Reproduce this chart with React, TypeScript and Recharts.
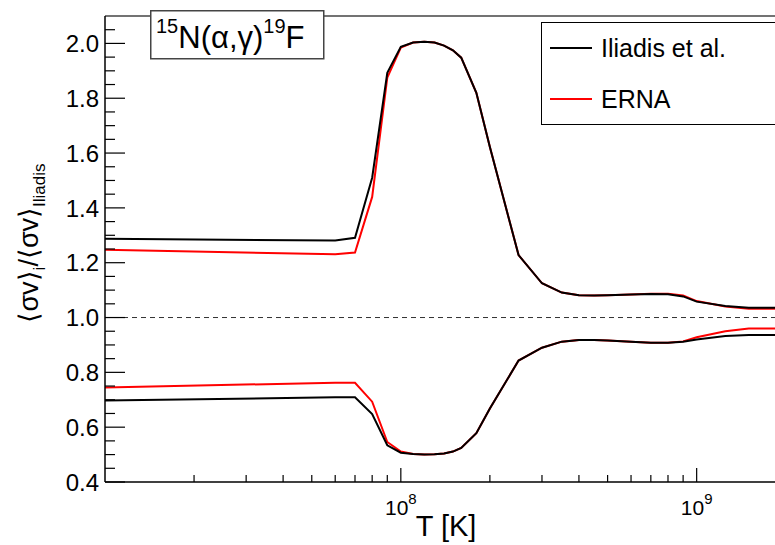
import { Line, LineChart, ReferenceLine, XAxis, YAxis } from "recharts";

// temperatures (K)
const temps = [
  1e7, 6e7, 7e7, 8e7, 9e7, 1e8, 1.1e8, 1.2e8, 1.3e8, 1.4e8, 1.5e8, 1.6e8, 1.8e8, 2e8, 2.5e8,
  3e8, 3.5e8, 4e8, 4.5e8, 5e8, 6e8, 7e8, 8e8, 9e8, 1e9, 1.25e9, 1.5e9, 1.75e9, 2e9,
];

// rate ratio bands (upper / lower)
const iliadisHigh = [
  1.287, 1.281, 1.291, 1.51, 1.893, 1.988, 2.003, 2.006, 2.003, 1.992, 1.975, 1.948, 1.82, 1.622, 1.228,
  1.125, 1.091, 1.081, 1.08, 1.081, 1.084, 1.086, 1.085, 1.077, 1.058, 1.042, 1.036, 1.036, 1.036,
];
const ernaHigh = [
  1.247, 1.231, 1.237, 1.44, 1.875, 1.985, 2.003, 2.006, 2.003, 1.992, 1.975, 1.948, 1.82, 1.622, 1.228,
  1.125, 1.091, 1.081, 1.08, 1.081, 1.084, 1.087, 1.087, 1.08, 1.06, 1.04, 1.032, 1.032, 1.032,
];
const iliadisLow = [
  0.697, 0.709, 0.709, 0.648, 0.534, 0.507, 0.502, 0.5, 0.501, 0.504, 0.511, 0.524, 0.578, 0.668, 0.843,
  0.89, 0.912, 0.918, 0.918, 0.916, 0.912, 0.908, 0.908, 0.912, 0.92, 0.933, 0.936, 0.936, 0.936,
];
const ernaLow = [
  0.745, 0.762, 0.762, 0.693, 0.546, 0.511, 0.502, 0.5, 0.501, 0.504, 0.511, 0.524, 0.578, 0.668, 0.843,
  0.89, 0.912, 0.918, 0.918, 0.916, 0.912, 0.908, 0.908, 0.913, 0.928, 0.95, 0.96, 0.96, 0.96,
];

const xTicks = [2e7, 3e7, 4e7, 5e7, 6e7, 7e7, 8e7, 9e7, 1e8, 2e8, 3e8, 4e8, 5e8, 6e8, 7e8, 8e8, 9e8, 1e9];
const xMajor = [1e8, 1e9];
const yTicks = [
  0.4, 0.45, 0.5, 0.55, 0.6, 0.65, 0.7, 0.75, 0.8, 0.85, 0.9, 0.95, 1.0, 1.05, 1.1, 1.15, 1.2,
  1.25, 1.3, 1.35, 1.4, 1.45, 1.5, 1.55, 1.6, 1.65, 1.7, 1.75, 1.8, 1.85, 1.9, 1.95, 2.0, 2.05,
];
const yMajor = [0.4, 0.6, 0.8, 1.0, 1.2, 1.4, 1.6, 1.8, 2.0];

const legendItems = [
  { name: "Iliadis et al.", color: "#000" },
  { name: "ERNA", color: "#ff0000" },
];

const data = temps.map((T, i) => ({
  T,
  iliHigh: iliadisHigh[i],
  iliLow: iliadisLow[i],
  ernaHigh: ernaHigh[i],
  ernaLow: ernaLow[i],
}));

const FONT = "'Liberation Sans', Arial, Helvetica, sans-serif";
const Y_GAP = 6;

function YTick(props: any) {
  const { x, y, payload } = props;
  const v = payload.value;
  const major = yMajor.some((m) => Math.abs(m - v) < 1e-6);
  const ax = x + Y_GAP;
  return (
    <g>
      <line x1={ax} x2={ax + (major ? 20 : 10)} y1={y} y2={y} stroke="#000" strokeWidth={1.2} />
      {major && (
        <text x={x} y={y} dy="0.36em" textAnchor="end" fontSize={24} fontFamily={FONT} fill="#000">
          {v.toFixed(1)}
        </text>
      )}
    </g>
  );
}

function XTick(props: any) {
  const { x, y, payload } = props;
  const v = payload.value;
  const major = xMajor.includes(v);
  return (
    <g>
      <line x1={x} x2={x} y1={y} y2={y - (major ? 14 : 7)} stroke="#000" strokeWidth={1.2} />
      {major && (
        <text x={x} y={y + 33} textAnchor="middle" fontSize={21} fontFamily={FONT} fill="#000">
          10
          <tspan fontSize={15} dy={-11}>
            {Math.round(Math.log10(v))}
          </tspan>
        </text>
      )}
    </g>
  );
}

export default function App() {
  return (
    <div style={{ position: "absolute", left: 0, top: 0, width: 775, height: 545, background: "#fff" }}>
      <LineChart width={775} height={545} data={data} margin={{ top: 16, right: 0, bottom: 23, left: 0 }}>
        <XAxis
          dataKey="T"
          type="number"
          scale="log"
          domain={[1e7, 1.84e9]}
          allowDataOverflow
          ticks={xTicks}
          interval={0}
          tickSize={0}
          tickMargin={0}
          height={40}
          axisLine={{ stroke: "#000", strokeWidth: 1.5 }}
          tick={<XTick />}
          label={{
            content: () => (
              <text x={446} y={536} textAnchor="middle" fontSize={29} fontFamily={FONT} fill="#000">
                T [K]
              </text>
            ),
          }}
        />
        <YAxis
          type="number"
          domain={[0.4, 2.1]}
          ticks={yTicks}
          interval={0}
          tickSize={0}
          tickMargin={Y_GAP}
          width={105}
          axisLine={{ stroke: "#000", strokeWidth: 1.5 }}
          tick={<YTick />}
          label={{
            content: () => (
              <text
                transform="translate(38,243) rotate(-90)"
                textAnchor="middle"
                fontSize={27}
                fontFamily={FONT}
                fill="#000"
              >
                ⟨σv⟩
                <tspan fontSize={17} dy={7}>i</tspan>
                <tspan fontSize={27} dy={-7}>/⟨σv⟩</tspan>
                <tspan fontSize={17} dy={7}>Iliadis</tspan>
              </text>
            ),
          }}
        />
        <ReferenceLine y={2.1} stroke="#444" strokeWidth={1.5} />
        <ReferenceLine y={1} stroke="#333" strokeWidth={1} strokeDasharray="5 4" />
        <Line dataKey="ernaHigh" name="ERNA" stroke="#ff0000" strokeWidth={2} dot={false} type="linear" isAnimationActive={false} />
        <Line dataKey="ernaLow" stroke="#ff0000" strokeWidth={2} dot={false} type="linear" isAnimationActive={false} />
        <Line dataKey="iliHigh" name="Iliadis et al." stroke="#000" strokeWidth={2} dot={false} type="linear" isAnimationActive={false} />
        <Line dataKey="iliLow" stroke="#000" strokeWidth={2} dot={false} type="linear" isAnimationActive={false} />
      </LineChart>
      <svg style={{ position: "absolute", left: 541, top: 22 }} width={234} height={104}>
        <rect x={0.5} y={0.5} width={250} height={102} fill="#fff" stroke="#000" strokeWidth={1} />
        {legendItems.map((it, i) => (
          <g key={it.name}>
            <line x1={9} x2={51} y1={26 + i * 51} y2={26 + i * 51} stroke={it.color} strokeWidth={2} />
            <text x={60} y={26 + i * 51} dy="0.36em" fontSize={25} fontFamily={FONT} fill="#000">
              {it.name}
            </text>
          </g>
        ))}
      </svg>
      <svg style={{ position: "absolute", left: 150, top: 10 }} width={175} height={50}>
        <rect x={0.75} y={0.75} width={173} height={48} fill="#fff" stroke="#444" strokeWidth={1.5} />
        <text x={6} y={38} fontSize={31} fontFamily={FONT} fill="#000">
          <tspan fontSize={20} dy={-15}>15</tspan>
          <tspan dy={15}>N(α,γ)</tspan>
          <tspan fontSize={20} dy={-15}>19</tspan>
          <tspan dy={15}>F</tspan>
        </text>
      </svg>
    </div>
  );
}
